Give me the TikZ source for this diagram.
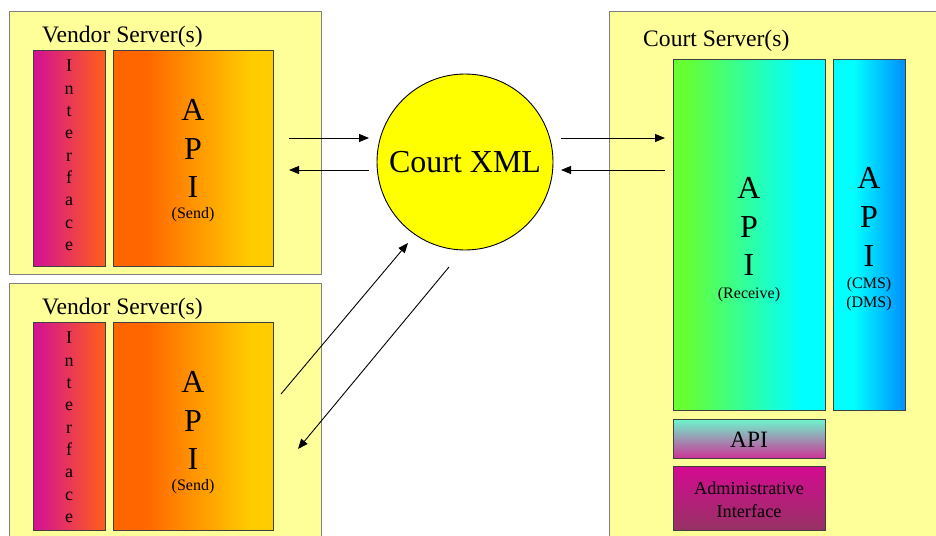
\documentclass[tikz,border=0pt]{standalone}
\usepackage{fontspec}
\setmainfont{Liberation Serif}
\usetikzlibrary{arrows.meta}
\definecolor{srvfill}{RGB}{255,255,153}
\definecolor{srvline}{RGB}{128,128,128}
\definecolor{boxline}{RGB}{64,64,64}
\definecolor{ifL}{RGB}{210,16,150}
\definecolor{ifR}{RGB}{255,96,24}
\definecolor{orL}{RGB}{255,102,0}
\definecolor{orR}{RGB}{255,204,0}
\definecolor{grL}{RGB}{102,255,51}
\definecolor{cyanc}{RGB}{0,255,255}
\definecolor{blR}{RGB}{0,150,255}
\definecolor{mint}{RGB}{110,245,205}
\definecolor{pinkb}{RGB}{205,50,150}
\definecolor{adT}{RGB}{212,10,145}
\definecolor{adB}{RGB}{150,50,100}
\definecolor{xmlfill}{RGB}{255,255,0}
\pgfdeclarehorizontalshading{orangeshade}{100bp}{color(0bp)=(orL); color(25bp)=(orL); color(35bp)=(orL); color(68bp)=(orR); color(100bp)=(orR)}
\pgfdeclarehorizontalshading{greenshade}{100bp}{color(0bp)=(grL); color(25bp)=(grL); color(29bp)=(grL); color(67bp)=(cyanc); color(100bp)=(cyanc)}
\pgfdeclarehorizontalshading{blueshade}{100bp}{color(0bp)=(cyanc); color(25bp)=(cyanc); color(39bp)=(cyanc); color(72bp)=(blR); color(100bp)=(blR)}
\tikzset{
  srvbox/.style={draw=srvline, fill=srvfill, line width=1pt, rectangle, inner sep=0pt, anchor=north west},
  inbox/.style={draw=boxline, line width=0.9pt, rectangle, inner sep=0pt, anchor=north west},
  lbl/.style={font=\fontsize{23.6}{28}\selectfont, inner sep=0pt, anchor=base west},
  vtxt/.style={font=\fontsize{18}{22.3}\selectfont, inner sep=0pt, anchor=north, align=center},
  apitxt/.style={inner sep=0pt, anchor=north, align=center},
  arr/.style={-{Triangle[length=10pt,width=8pt]}, line width=0.9pt, black},
}
\newcommand{\smalltxt}[1]{{\fontsize{16}{19}\selectfont #1}}
\begin{document}
\begin{tikzpicture}[x=1pt,y=-1pt]
\useasboundingbox (0,0) rectangle (936,535);
\fill[white] (0,0) rectangle (936,535);

% Vendor server 1
\node[srvbox, minimum width=312pt, minimum height=263pt] (v1) at (9,11) {};
\node[lbl] (v1l) at (42,42) {Vendor Server(s)};
\node[inbox, left color=ifL, right color=ifR, minimum width=72pt, minimum height=216pt] (if1) at (33,50) {};
\node[inbox, shade, shading=orangeshade, minimum width=160pt, minimum height=216pt] (api1) at (113,50) {};
\node[vtxt] (if1t) at (69,60) {I\\n\\t\\e\\r\\f\\a\\c\\e};
\node[apitxt, font=\fontsize{32}{38.5}\selectfont] (api1t) at (193,99.4) {A\\P\\I\\[-18.1pt]\smalltxt{(Send)}};

% Vendor server 2
\node[srvbox, minimum width=312pt, minimum height=270pt] (v2) at (9,283) {};
\node[lbl] (v2l) at (42,314) {Vendor Server(s)};
\node[inbox, left color=ifL, right color=ifR, minimum width=72pt, minimum height=208pt] (if2) at (33,322) {};
\node[inbox, shade, shading=orangeshade, minimum width=160pt, minimum height=208pt] (api2) at (113,322) {};
\node[vtxt] (if2t) at (69,332) {I\\n\\t\\e\\r\\f\\a\\c\\e};
\node[apitxt, font=\fontsize{32}{38.5}\selectfont] (api2t) at (193,371.4) {A\\P\\I\\[-18.1pt]\smalltxt{(Send)}};

% Court server
\node[srvbox, minimum width=345pt, minimum height=545pt] (cs) at (609,11) {};
\node[lbl] (csl) at (643,47) {Court Server(s)};
\node[inbox, shade, shading=greenshade, minimum width=152pt, minimum height=351pt] (rcv) at (673,59) {};
\node[inbox, shade, shading=blueshade, minimum width=72pt, minimum height=351pt] (cms) at (833,59) {};
\node[apitxt, font=\fontsize{32}{38.7}\selectfont] (rcvt) at (749,177) {A\\P\\I\\[-15.7pt]\smalltxt{(Receive)}};
\node[apitxt, font=\fontsize{32}{38.9}\selectfont] (cmst) at (869,167.4) {A\\P\\I\\[-16.9pt]\smalltxt{(CMS)}\\[-19.9pt]\smalltxt{(DMS)}};
\node[inbox, top color=mint, bottom color=pinkb, minimum width=152pt, minimum height=39pt, font=\fontsize{23.4}{28}\selectfont] (capi) at (673,419) {};
\node[inner sep=0pt, font=\fontsize{23.4}{28}\selectfont] (capit) at (749,440) {API};
\node[inbox, top color=adT, bottom color=adB, minimum width=152pt, minimum height=64pt] (adm) at (673,466) {};
\node[inner sep=0pt, align=center, font=\fontsize{18.3}{22.5}\selectfont] (admt) at (749,499.5) {Administrative\\Interface};

% Court XML
\node[circle, draw=black, line width=0.9pt, fill=xmlfill, minimum size=176pt, inner sep=0pt, font=\fontsize{32}{38}\selectfont] (xml) at (465,162) {Court XML};

% connector end points
\coordinate (a1s) at (289,138); \coordinate (a1e) at (369,138);
\coordinate (a2s) at (369,170); \coordinate (a2e) at (289,170);
\coordinate (a3s) at (561,138); \coordinate (a3e) at (665,138);
\coordinate (a4s) at (665,170); \coordinate (a4e) at (561,170);
\coordinate (a5s) at (281,394); \coordinate (a5e) at (408,243);
\coordinate (a6s) at (449,267); \coordinate (a6e) at (298,449);

\draw[arr] (a1s) -- (a1e);
\draw[arr] (a2s) -- (a2e);
\draw[arr] (a3s) -- (a3e);
\draw[arr] (a4s) -- (a4e);
\draw[arr] (a5s) -- (a5e);
\draw[arr] (a6s) -- (a6e);
\end{tikzpicture}
\end{document}
